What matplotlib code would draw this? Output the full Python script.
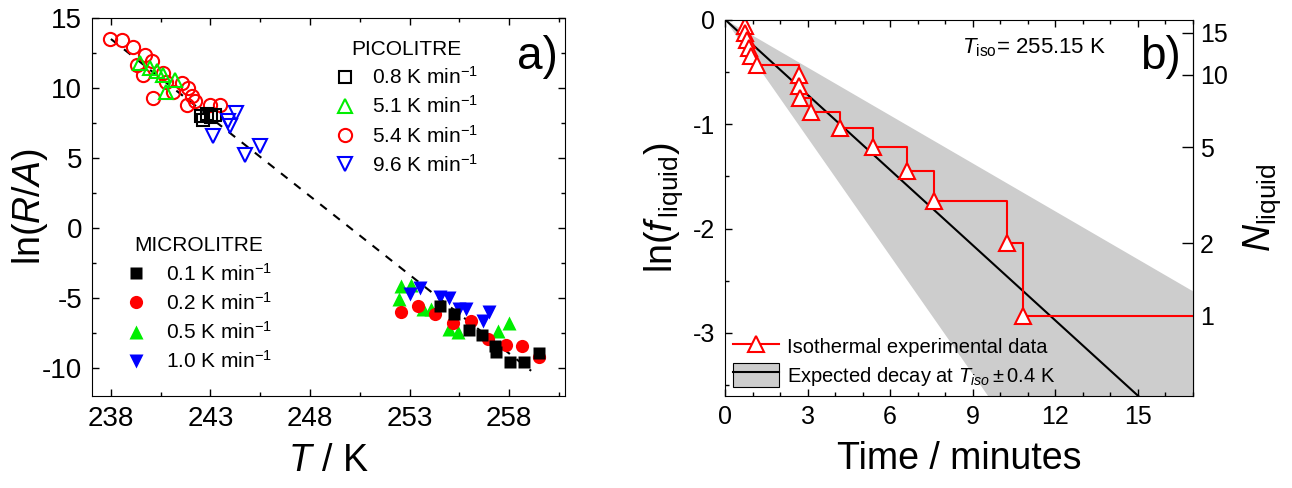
import numpy as np
import matplotlib
matplotlib.use("Agg")
import matplotlib.pyplot as plt
from matplotlib.lines import Line2D
from matplotlib.patches import Patch
from matplotlib.ticker import MultipleLocator, FixedLocator, NullLocator

plt.rcParams["font.family"] = ["Liberation Sans", "DejaVu Sans"]
plt.rcParams["mathtext.fontset"] = "custom"
plt.rcParams["mathtext.rm"] = "Liberation Sans"
plt.rcParams["mathtext.it"] = "Liberation Sans:italic"
plt.rcParams["axes.unicode_minus"] = False

# ---- panel a: ln(R/A) vs T ----
# picolitre (open markers)
pico_08_T = [242.51, 242.8, 243.05, 243.22, 242.63]
pico_08_y = [7.97, 8.14, 7.9, 8.09, 7.74]
pico_51_T = [239.45, 239.96, 240.29, 240.62, 241.21, 240.79]
pico_51_y = [11.77, 11.42, 11.18, 10.94, 10.58, 9.75]
pico_54_T = [237.95, 238.57, 239.12, 239.7, 239.29, 239.62, 240.04, 240.12, 240.62,
             240.79, 241.12, 241.55, 241.88, 242.05, 241.8, 242.2, 242.96, 243.47]
pico_54_y = [13.5, 13.43, 12.96, 12.36, 11.65, 10.94, 11.9, 9.28, 11.06,
             10.46, 9.75, 10.35, 9.99, 9.4, 8.8, 9.04, 8.8, 8.8]
pico_96_T = [244.3, 243.88, 243.97, 243.13, 244.72, 245.47]
pico_96_y = [8.21, 7.61, 7.26, 6.55, 5.24, 5.83]

# microlitre (filled markers)
micro_01_T = [254.53, 255.25, 255.97, 256.64, 257.3, 257.34, 258.04, 258.73, 259.47]
micro_01_y = [-5.56, -6.15, -7.27, -7.65, -8.41, -8.88, -9.55, -9.6, -8.95]
micro_02_T = [252.58, 253.41, 254.25, 255.17, 256.09, 256.92, 257.84, 258.64, 259.51]
micro_02_y = [-6.03, -5.56, -6.15, -6.75, -6.63, -7.93, -8.36, -8.41, -9.24]
micro_05_T = [252.58, 253.08, 252.49, 253.66, 254.08, 255.0, 255.42, 257.42, 258.01]
micro_05_y = [-4.14, -4.09, -5.04, -5.8, -5.8, -7.22, -7.46, -7.34, -6.75]
micro_10_T = [253.5, 253.0, 254.5, 254.97, 255.5, 255.84, 257.0, 256.67]
micro_10_y = [-4.32, -4.73, -4.9, -4.97, -5.8, -5.8, -6.03, -6.63]

fit_T = [238.0, 259.1]
fit_y = [13.5, -10.2]

# ---- panel b: isothermal freezing ----
N0 = 17
iso_t = [0.71, 0.71, 0.81, 0.88, 0.95, 1.18, 2.69, 2.70, 2.72, 3.12,
         4.18, 5.37, 6.60, 7.61, 10.25, 10.82]
iso_N = [16, 15, 14, 13, 12, 11, 10, 9, 8, 7, 6, 5, 4, 3, 2, 1]
k_mid, k_slow, k_fast = 0.24, 0.153, 0.377   # per minute
t_end = 17
N_ticks = [1, 2, 5, 10, 15]

fig = plt.figure(figsize=(12.92, 4.88), dpi=100)

# ================= panel a =================
ax = fig.add_axes([92 / 1292, 92 / 488, 473 / 1292, 378 / 488])
ax.plot(fit_T, fit_y, color="black", lw=1.5, ls=(0, (4, 4)), zorder=1)

ms = 9.5
ax.plot(pico_54_T, pico_54_y, "o", ms=ms, mfc="none", mec="red", mew=1.5)
ax.plot(pico_51_T, pico_51_y, "^", ms=ms + 1, mfc="none", mec="#00ee00", mew=1.5)
ax.plot(pico_08_T, pico_08_y, "s", ms=ms - 0.5, mfc="none", mec="black", mew=1.5)
ax.plot(pico_96_T, pico_96_y, "v", ms=ms + 1, mfc="none", mec="blue", mew=1.5)

ax.plot(micro_05_T, micro_05_y, "^", ms=ms + 1, color="#00ee00", mec="none")
ax.plot(micro_10_T, micro_10_y, "v", ms=ms + 1, color="blue", mec="none")
ax.plot(micro_02_T, micro_02_y, "o", ms=ms, color="red", mec="none")
ax.plot(micro_01_T, micro_01_y, "s", ms=ms - 0.5, color="black", mec="none")

ax.set_xlim(237.05, 260.8)
ax.set_ylim(-12, 15)
ax.xaxis.set_major_locator(MultipleLocator(5, offset=3))
ax.xaxis.set_minor_locator(MultipleLocator(2.5, offset=0.5))
ax.yaxis.set_major_locator(MultipleLocator(5))
ax.yaxis.set_minor_locator(MultipleLocator(2.5))
ax.tick_params(which="both", direction="in", top=True, right=True, labelsize=20, width=1, pad=7)
ax.tick_params(which="major", length=5)
ax.tick_params(which="minor", length=3)
ax.set_xlabel(r"$T$ / K", fontsize=27, labelpad=8)
ax.set_ylabel(r"ln($R$/$A$)", fontsize=27)
ax.yaxis.set_label_coords(-0.089, 0.5)
ax.text(0.941, 0.898, "a)", transform=ax.transAxes, fontsize=33, ha="center", va="center")

pico_handles = [
    Line2D([], [], ls="none", marker="s", ms=ms - 0.5, mfc="none", mec="black", mew=1.5),
    Line2D([], [], ls="none", marker="^", ms=ms + 1, mfc="none", mec="#00ee00", mew=1.5),
    Line2D([], [], ls="none", marker="o", ms=ms, mfc="none", mec="red", mew=1.5),
    Line2D([], [], ls="none", marker="v", ms=ms + 1, mfc="none", mec="blue", mew=1.5),
]
pico_labels = [r"0.8 K min$^{-1}$", r"5.1 K min$^{-1}$", r"5.4 K min$^{-1}$", r"9.6 K min$^{-1}$"]
leg1 = ax.legend(pico_handles, pico_labels, title="PICOLITRE", loc="upper left",
                 bbox_to_anchor=(0.49, 0.97), frameon=False, fontsize=15,
                 title_fontsize=15, handlelength=1.0, handletextpad=0.8,
                 labelspacing=0.35, borderpad=0)
ax.add_artist(leg1)

micro_handles = [
    Line2D([], [], ls="none", marker="s", ms=ms - 0.5, color="black", mec="none"),
    Line2D([], [], ls="none", marker="o", ms=ms, color="red", mec="none"),
    Line2D([], [], ls="none", marker="^", ms=ms + 1, color="#00ee00", mec="none"),
    Line2D([], [], ls="none", marker="v", ms=ms + 1, color="blue", mec="none"),
]
micro_labels = [r"0.1 K min$^{-1}$", r"0.2 K min$^{-1}$", r"0.5 K min$^{-1}$", r"1.0 K min$^{-1}$"]
ax.legend(micro_handles, micro_labels, title="MICROLITRE", loc="upper left",
          bbox_to_anchor=(0.05, 0.45), frameon=False, fontsize=15,
          title_fontsize=15, handlelength=1.0, handletextpad=0.9,
          labelspacing=0.35, borderpad=0)

# ================= panel b =================
bx = fig.add_axes([725 / 1292, 92.3 / 488, 468 / 1292, 376.2 / 488])
t = np.linspace(0, t_end, 200)
bx.fill_between(t, -k_slow * t, -k_fast * t, color="#cdcdcd", lw=0)
bx.plot(t, -k_mid * t, color="black", lw=1.5)

iso_y = np.log(np.array(iso_N) / N0)
bx.plot(list(iso_t) + [t_end], list(iso_y) + [iso_y[-1]], color="red", lw=1.5,
        drawstyle="steps-post")
bx.plot(iso_t, iso_y, "^", ls="none", ms=11, mfc="white", mec="red", mew=1.5)

bx.set_xlim(0, t_end)
bx.set_ylim(-3.6, 0)
bx.xaxis.set_major_locator(MultipleLocator(3))
bx.xaxis.set_minor_locator(MultipleLocator(1))
bx.yaxis.set_major_locator(MultipleLocator(1))
bx.yaxis.set_minor_locator(MultipleLocator(0.5))
bx.tick_params(which="both", direction="in", top=True, labelsize=18, width=1, pad=7)
bx.tick_params(which="major", length=5)
bx.tick_params(which="minor", length=3)
bx.set_xlabel("Time / minutes", fontsize=27, labelpad=8)
bx.set_ylabel(r"ln($f_{\,\rm liquid}$)", fontsize=27, labelpad=6)

rax = bx.secondary_yaxis("right", functions=(lambda y: N0 * np.exp(y),
                                             lambda n: np.log(np.clip(n, 1e-9, None) / N0)))
rax.yaxis.set_major_locator(FixedLocator(N_ticks))
rax.yaxis.set_minor_locator(NullLocator())
rax.tick_params(direction="in", length=8, width=1, labelsize=18, pad=5)
rax.set_ylabel(r"$N_{\rm liquid}$", fontsize=27, labelpad=10)

bx.text(0.506, 0.925, r"$T_{\rm iso}$= 255.15 K", transform=bx.transAxes,
        fontsize=16, ha="left", va="center")
bx.text(0.93, 0.901, "b)", transform=bx.transAxes, fontsize=33, ha="center", va="center")

h_iso = Line2D([], [], color="red", lw=1.5, marker="^", ms=11, mfc="white", mec="red", mew=1.5)
h_exp = (Patch(facecolor="#cdcdcd", edgecolor="black", lw=0.8), Line2D([], [], color="black", lw=1.5))
bx.legend([h_iso, h_exp], ["Isothermal experimental data", r"Expected decay at $T_{iso}\pm$0.4 K"],
          loc="lower left", bbox_to_anchor=(0.0, 0.0), frameon=False, fontsize=14.5,
          handlelength=2.3, handleheight=1.5, handletextpad=0.4, labelspacing=0.2,
          borderpad=0.2, borderaxespad=0.2)

fig.savefig("out.png", dpi=100)
